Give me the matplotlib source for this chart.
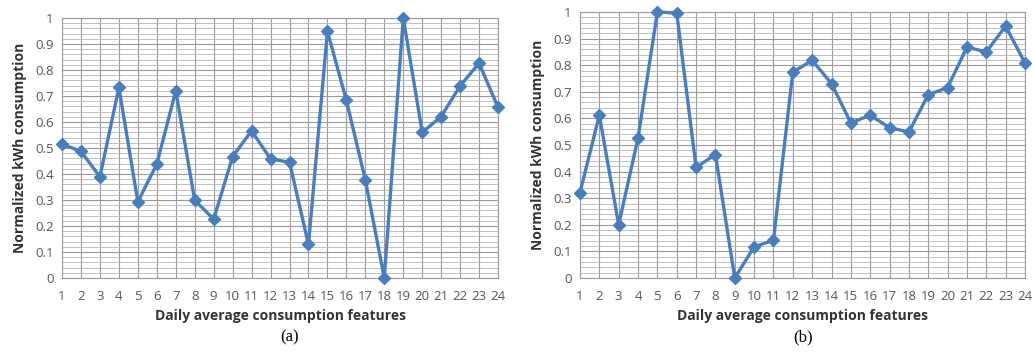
import matplotlib
matplotlib.use("Agg")
import matplotlib.pyplot as plt
from matplotlib.ticker import MultipleLocator

features = list(range(1, 25))
consumption_a = [0.515, 0.487, 0.389, 0.733, 0.293, 0.438, 0.720, 0.299, 0.226, 0.467,
                 0.566, 0.458, 0.445, 0.129, 0.949, 0.683, 0.377, 0.0, 1.0, 0.560,
                 0.621, 0.739, 0.826, 0.656]
consumption_b = [0.321, 0.612, 0.200, 0.526, 1.0, 0.996, 0.416, 0.464, 0.0, 0.117,
                 0.142, 0.774, 0.818, 0.731, 0.583, 0.612, 0.565, 0.549, 0.689, 0.716,
                 0.868, 0.850, 0.947, 0.808]
y_ticks = [0, 0.1, 0.2, 0.3, 0.4, 0.5, 0.6, 0.7, 0.8, 0.9, 1]
y_labels = ["0", "0.1", "0.2", "0.3", "0.4", "0.5", "0.6", "0.7", "0.8", "0.9", "1"]

fig = plt.figure(figsize=(10.32, 3.54), dpi=100)
ax_a = fig.add_axes([0.0601, 0.2147, 0.4225, 0.7345])
ax_b = fig.add_axes([0.562, 0.2147, 0.4312, 0.7514])

for ax, vals, tag, xc in [(ax_a, consumption_a, "(a)", 0.281), (ax_b, consumption_b, "(b)", 0.778)]:
    ax.plot(features, vals, color="#4a7ebb", lw=2.4, marker="D", ms=6, zorder=3, clip_on=False)
    ax.set_xlim(1, 24)
    ax.set_ylim(0, 1)
    ax.set_xticks(features)
    ax.set_yticks(y_ticks)
    ax.set_yticklabels(y_labels)
    ax.yaxis.set_minor_locator(MultipleLocator(0.02))
    ax.grid(True, which="major", color="#9a9a9a", lw=0.8)
    ax.grid(True, which="minor", axis="y", color="#b5b5b5", lw=0.6)
    ax.tick_params(which="both", length=0, labelsize=9.5, labelcolor="#555555", pad=6)
    ax.tick_params(axis="x", pad=9)
    for s in ax.spines.values():
        s.set_color("#9a9a9a")
        s.set_linewidth(0.8)
    ax.set_xlabel("Daily average consumption features", fontsize=10, fontweight="bold", color="#333333", labelpad=4)
    ax.set_ylabel("Normalized kWh consumption", fontsize=10, fontweight="bold", color="#333333", labelpad=6)
    for lbl in ax.get_xticklabels() + ax.get_yticklabels():
        lbl.set_family("Open Sans")
    ax.xaxis.label.set_family("Open Sans")
    ax.yaxis.label.set_family("Open Sans")
    fig.text(xc, 0.048, tag, ha="center", va="center", fontsize=12, family="Liberation Serif")

fig.savefig("out.png", dpi=100)
